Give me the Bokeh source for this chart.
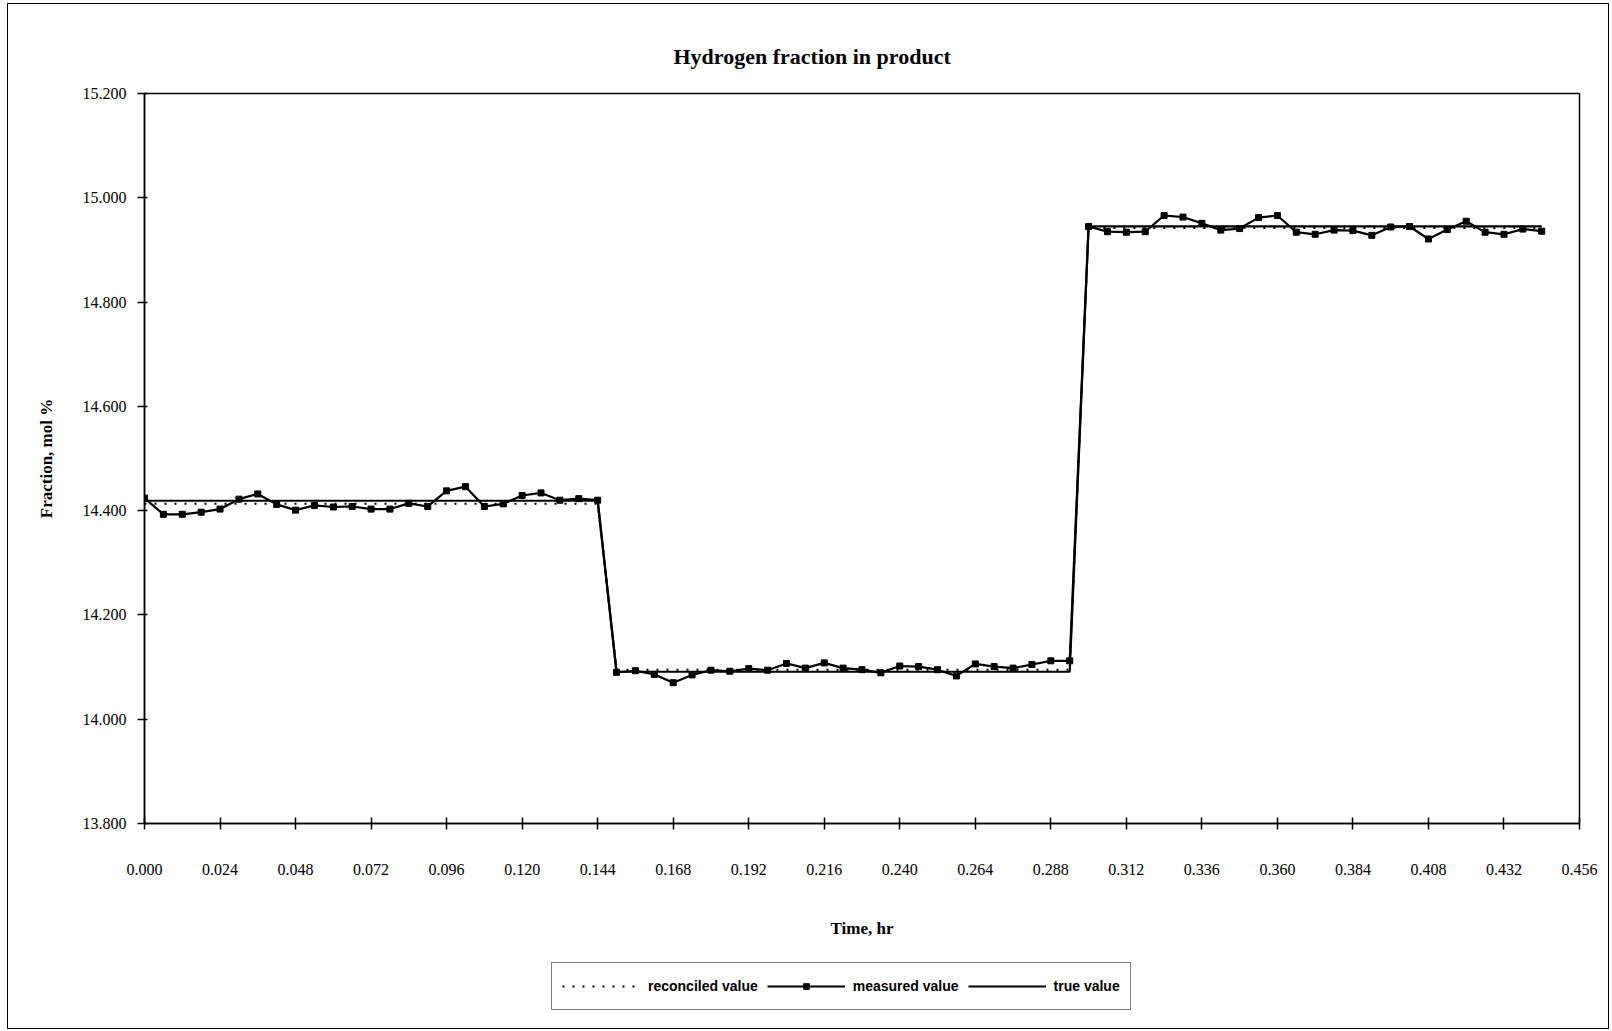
from bokeh.plotting import figure
from bokeh.layouts import column
from bokeh.models import Range1d, FixedTicker, NumeralTickFormatter, Legend, LegendItem
from bokeh.embed import file_html
from bokeh.resources import INLINE

# Sample times (hr)
time_hr = [
    0.000, 0.006, 0.012, 0.018, 0.024, 0.030, 0.036, 0.042, 0.048, 0.054,
    0.060, 0.066, 0.072, 0.078, 0.084, 0.090, 0.096, 0.102, 0.108, 0.114,
    0.120, 0.126, 0.132, 0.138, 0.144, 0.150, 0.156, 0.162, 0.168, 0.174,
    0.180, 0.186, 0.192, 0.198, 0.204, 0.210, 0.216, 0.222, 0.228, 0.234,
    0.240, 0.246, 0.252, 0.258, 0.264, 0.270, 0.276, 0.282, 0.288, 0.294,
    0.300, 0.306, 0.312, 0.318, 0.324, 0.330, 0.336, 0.342, 0.348, 0.354,
    0.360, 0.366, 0.372, 0.378, 0.384, 0.390, 0.396, 0.402, 0.408, 0.414,
    0.420, 0.426, 0.432, 0.438, 0.444,
]

# Measured hydrogen fraction, mol %
measured = [
    14.424, 14.393, 14.393, 14.397, 14.403, 14.422, 14.432, 14.412, 14.401, 14.410,
    14.407, 14.408, 14.403, 14.403, 14.414, 14.408, 14.438, 14.446, 14.408, 14.413,
    14.429, 14.434, 14.420, 14.423, 14.420, 14.090, 14.093, 14.086, 14.070, 14.085,
    14.094, 14.092, 14.097, 14.094, 14.107, 14.098, 14.108, 14.098, 14.095, 14.089,
    14.102, 14.101, 14.095, 14.083, 14.106, 14.101, 14.098, 14.105, 14.112, 14.112,
    14.945, 14.935, 14.934, 14.935, 14.966, 14.963, 14.951, 14.938, 14.941, 14.962,
    14.966, 14.934, 14.930, 14.938, 14.937, 14.928, 14.944, 14.945, 14.921, 14.939,
    14.955, 14.934, 14.930, 14.940, 14.936,
]

# Reconciled estimate, mol %
reconciled = [
    14.413, 14.413, 14.413, 14.413, 14.413, 14.413, 14.413, 14.413, 14.413, 14.413,
    14.413, 14.413, 14.413, 14.413, 14.413, 14.413, 14.413, 14.413, 14.413, 14.413,
    14.413, 14.413, 14.413, 14.413, 14.413, 14.095, 14.095, 14.095, 14.095, 14.095,
    14.095, 14.095, 14.095, 14.095, 14.095, 14.095, 14.095, 14.095, 14.095, 14.095,
    14.095, 14.095, 14.095, 14.095, 14.095, 14.095, 14.095, 14.095, 14.095, 14.095,
    14.942, 14.942, 14.942, 14.942, 14.942, 14.942, 14.942, 14.942, 14.942, 14.942,
    14.942, 14.942, 14.942, 14.942, 14.942, 14.942, 14.942, 14.942, 14.942, 14.942,
    14.942, 14.942, 14.942, 14.942, 14.942,
]

# True process value, mol %
true_value = [
    14.419, 14.419, 14.419, 14.419, 14.419, 14.419, 14.419, 14.419, 14.419, 14.419,
    14.419, 14.419, 14.419, 14.419, 14.419, 14.419, 14.419, 14.419, 14.419, 14.419,
    14.419, 14.419, 14.419, 14.419, 14.419, 14.091, 14.091, 14.091, 14.091, 14.091,
    14.091, 14.091, 14.091, 14.091, 14.091, 14.091, 14.091, 14.091, 14.091, 14.091,
    14.091, 14.091, 14.091, 14.091, 14.091, 14.091, 14.091, 14.091, 14.091, 14.091,
    14.945, 14.945, 14.945, 14.945, 14.945, 14.945, 14.945, 14.945, 14.945, 14.945,
    14.945, 14.945, 14.945, 14.945, 14.945, 14.945, 14.945, 14.945, 14.945, 14.945,
    14.945, 14.945, 14.945, 14.945, 14.945,
]

x_ticks = [0.000, 0.024, 0.048, 0.072, 0.096, 0.120, 0.144, 0.168, 0.192, 0.216,
           0.240, 0.264, 0.288, 0.312, 0.336, 0.360, 0.384, 0.408, 0.432, 0.456]
y_ticks = [13.8, 14.0, 14.2, 14.4, 14.6, 14.8, 15.0, 15.2]

series_labels = ["reconciled value", "measured value", "true value"]

SERIF = "Liberation Serif"
SANS = "Liberation Sans"

REC_STYLE = dict(line_color="black", line_width=2, line_dash="2 8")
MEAS_STYLE = dict(line_color="black", line_width=2.2)
MARK_STYLE = dict(marker="square", size=6, fill_color="black", line_color="black")
TRUE_STYLE = dict(line_color="black", line_width=2.2)

# ---- main chart ----
p = figure(
    width=1600, height=945,
    x_range=Range1d(0.0, 0.456), y_range=Range1d(13.8, 15.2),
    output_backend="svg", toolbar_location=None,
    min_border_left=136, min_border_right=29,
    min_border_top=89, min_border_bottom=126,
)

p.title.text = "Hydrogen fraction in product"
p.title.align = "left"
p.title.offset = 529
p.title.text_font = SERIF
p.title.text_font_style = "bold"
p.title.text_font_size = "22px"
p.title.text_color = "black"
p.title.standoff = 50

p.xgrid.visible = False
p.ygrid.visible = False
p.outline_line_color = "black"
p.outline_line_width = 1.5
p.background_fill_color = "white"
p.border_fill_color = "white"

for ax in (p.xaxis[0], p.yaxis[0]):
    ax.axis_line_color = "black"
    ax.axis_line_width = 1.5
    ax.major_tick_line_color = "black"
    ax.major_tick_line_width = 1.5
    ax.minor_tick_line_color = None
    ax.major_label_text_font = SERIF
    ax.major_label_text_font_size = "16px"
    ax.major_label_text_color = "black"
    ax.axis_label_text_font = SERIF
    ax.axis_label_text_font_style = "bold"
    ax.axis_label_text_font_size = "17px"
    ax.axis_label_text_color = "black"
    ax.formatter = NumeralTickFormatter(format="0.000")

p.xaxis.ticker = FixedTicker(ticks=x_ticks)
p.yaxis.ticker = FixedTicker(ticks=y_ticks)
p.xaxis.major_tick_in = 6
p.xaxis.major_tick_out = 6
p.yaxis.major_tick_in = 3
p.yaxis.major_tick_out = 7
p.xaxis.major_label_standoff = 34
p.yaxis.major_label_standoff = 11
p.xaxis.axis_label = "Time, hr"
p.yaxis.axis_label = "Fraction, mol %"
p.xaxis.axis_label_standoff = 41
p.yaxis.axis_label_standoff = 24

p.line(time_hr, reconciled, **REC_STYLE)
p.line(time_hr, measured, **MEAS_STYLE)
p.scatter(time_hr, measured, **MARK_STYLE)
p.line(time_hr, true_value, **TRUE_STYLE)

# ---- legend strip below the chart ----
# Its ranges leave the series out of view; only the legend box is seen.
k = figure(
    width=1600, height=79,
    x_range=Range1d(0, 1), y_range=Range1d(0, 1),
    output_backend="svg", toolbar_location=None,
    min_border=0,
)
k.axis.visible = False
k.xgrid.visible = False
k.ygrid.visible = False
k.outline_line_color = None
k.background_fill_color = "white"
k.border_fill_color = "white"

k_rec = k.line(time_hr, reconciled, **REC_STYLE)
k_meas = k.line(time_hr, measured, **MEAS_STYLE)
k_mark = k.scatter(time_hr, measured, **MARK_STYLE)
k_true = k.line(time_hr, true_value, **TRUE_STYLE)

legend = Legend(
    items=[
        LegendItem(label=series_labels[0], renderers=[k_rec]),
        LegendItem(label=series_labels[1], renderers=[k_meas, k_mark]),
        LegendItem(label=series_labels[2], renderers=[k_true]),
    ],
    orientation="horizontal",
    location=(407, 18),
    border_line_color="black",
    border_line_width=1.5,
    background_fill_color="white",
    background_fill_alpha=1.0,
    label_text_font=SANS,
    label_text_font_style="bold",
    label_text_font_size="14px",
    label_text_color="black",
    glyph_width=78,
    glyph_height=14,
    label_height=26,
    label_standoff=8,
    spacing=9,
    padding=10,
    margin=0,
)
k.add_layout(legend, "center")

page = column(p, k, spacing=0, margin=(4, 4, 3, 8),
              styles={"outline": "1.5px solid black"})

with open("out.html", "w") as f:
    f.write(file_html(page, INLINE))
